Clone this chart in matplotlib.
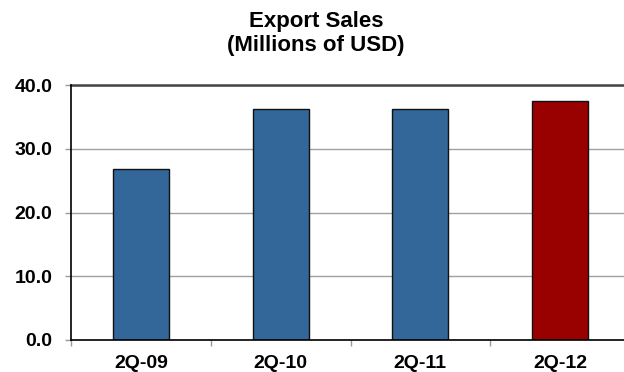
import matplotlib.pyplot as plt
from matplotlib.ticker import FixedLocator

plt.rcParams['font.family'] = ['Liberation Sans', 'DejaVu Sans']

quarters = ['2Q-09', '2Q-10', '2Q-11', '2Q-12']
sales = [26.8, 36.3, 36.2, 37.5]
colors = ['#336699', '#336699', '#336699', '#990000']
yticks = [0, 10, 20, 30, 40]

fig = plt.figure(figsize=(6.24, 3.72), dpi=100)
# the plot area runs slightly past the right edge of the figure
ax = fig.add_axes([71 / 624, 32 / 372, 559 / 624, 255 / 372])

x = range(len(quarters))
ax.bar(x, sales, width=0.4, color=colors, edgecolor='#111111', linewidth=1.0, zorder=3)

ax.set_xlim(-0.5, 3.5)
ax.set_ylim(0, 40)
ax.set_yticks(yticks)
ax.set_yticklabels([f'{v:.1f}' for v in yticks], fontsize=14, fontweight='bold')
ax.set_xticks(list(x))
ax.set_xticklabels(quarters, fontsize=14, fontweight='bold')
ax.xaxis.set_minor_locator(FixedLocator([-0.5, 0.5, 1.5, 2.5, 3.5]))

ax.tick_params(axis='x', which='major', length=0, pad=10.5)
ax.tick_params(axis='x', which='minor', length=4.5, color='#999999', width=1)
ax.tick_params(axis='y', length=4.5, color='#999999', width=1, pad=9)

ax.yaxis.grid(True, color='#a0a0a0', linewidth=1, zorder=0)
ax.set_axisbelow(True)

ax.spines['left'].set_color('black')
ax.spines['bottom'].set_color('black')
ax.spines['top'].set_color('#444444')
ax.spines['top'].set_linewidth(1.8)
ax.spines['right'].set_visible(False)
for s in ('left', 'bottom'):
    ax.spines[s].set_linewidth(1.2)
    ax.spines[s].set_zorder(4)

# two-line title, placed by baseline
fig.text(316 / 624, 1 - 27 / 372, 'Export Sales', ha='center', va='baseline',
         fontsize=16, fontweight='bold')
fig.text(316 / 624, 1 - 51 / 372, '(Millions of USD)', ha='center', va='baseline',
         fontsize=16, fontweight='bold')

fig.savefig('out.png', dpi=100)
